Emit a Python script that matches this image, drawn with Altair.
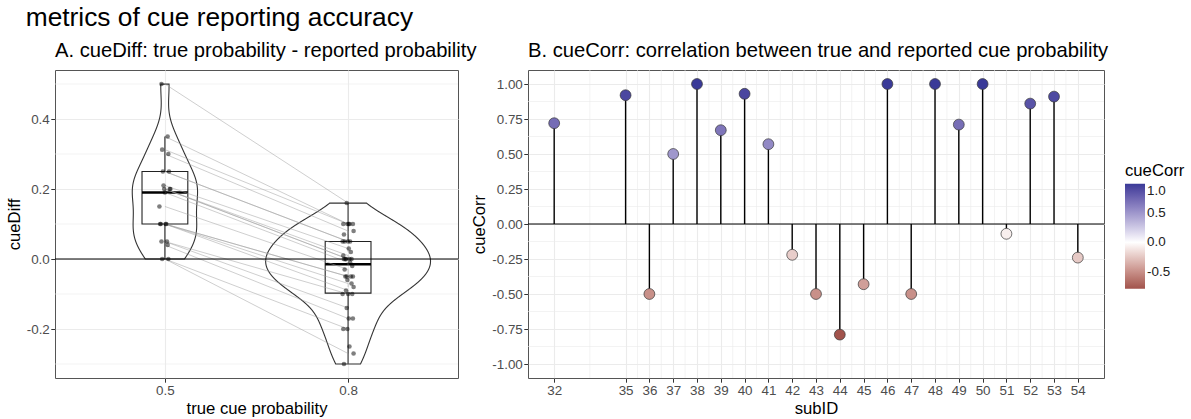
import altair as alt
import pandas as pd

FONT = "Liberation Sans"

# ---------------- data ----------------
sub_ids = [32, 35, 36, 37, 38, 39, 40, 41, 42, 43, 44, 45, 46, 47, 48, 49, 50, 51, 52, 53, 54]
cue_corr = [0.72, 0.92, -0.50, 0.50, 1.00, 0.67, 0.93, 0.57, -0.22, -0.50, -0.79,
            -0.43, 1.00, -0.50, 1.00, 0.71, 1.00, -0.07, 0.86, 0.91, -0.24]

cond_labels = ["0.5", "0.8"]
cue_diff_05 = [0.50, 0.35, 0.3125, 0.30, 0.25, 0.25, 0.21, 0.20, 0.20, 0.20, 0.19,
               0.15, 0.10, 0.10, 0.10, 0.10, 0.05, 0.05, 0.04, 0.00, 0.00]
cue_diff_08_a = [0.16, 0.10, 0.10, 0.08, 0.05, 0.05, 0.03, 0.01, 0.00, 0.00, -0.01,
                 -0.03, -0.05, -0.05, -0.07, -0.09, -0.10, -0.14, -0.17, -0.20, -0.27]
cue_diff_08_b = [0.10, 0.10, 0.10, 0.07, 0.05, 0.05, 0.02, 0.00, 0.00, 0.00, -0.02,
                 -0.05, -0.05, -0.06, -0.08, -0.10, -0.10, -0.17, -0.20, -0.25, -0.30]

yA_ticks = [-0.2, 0.0, 0.2, 0.4]
yA_minor = [-0.3, -0.1, 0.1, 0.3, 0.5]
yB_ticks = [-1.0, -0.75, -0.5, -0.25, 0.0, 0.25, 0.5, 0.75, 1.0]
yB_minor = [-0.875, -0.625, -0.375, -0.125, 0.125, 0.375, 0.625, 0.875]
xB_minor = [(a + b) / 2 for a, b in zip(sub_ids, sub_ids[1:])]
legend_vals = [-0.5, 0.0, 0.5, 1.0]

# ---------------- colours (ggplot gradient2: muted red / white / muted blue, Lab) ----------------
LOW, MID, HIGH = "#832424", "#FFFFFF", "#3A3A98"


def _lin(c):
    return c / 12.92 if c <= 0.04045 else ((c + 0.055) / 1.055) ** 2.4


def _delin(c):
    v = 12.92 * c if c <= 0.0031308 else 1.055 * c ** (1 / 2.4) - 0.055
    return min(1.0, max(0.0, v))


def _f(t):
    d = 6 / 29
    return t ** (1 / 3) if t > d ** 3 else t / (3 * d * d) + 4 / 29


def _finv(t):
    d = 6 / 29
    return t ** 3 if t > d else 3 * d * d * (t - 4 / 29)


WN = (0.95047, 1.0, 1.08883)


def to_lab(h):
    r, g, b = [_lin(int(h[i:i + 2], 16) / 255) for i in (1, 3, 5)]
    X = 0.4124564 * r + 0.3575761 * g + 0.1804375 * b
    Y = 0.2126729 * r + 0.7151522 * g + 0.0721750 * b
    Z = 0.0193339 * r + 0.1191920 * g + 0.9503041 * b
    fx, fy, fz = _f(X / WN[0]), _f(Y / WN[1]), _f(Z / WN[2])
    return (116 * fy - 16, 500 * (fx - fy), 200 * (fy - fz))


def from_lab(lab):
    L, a, b = lab
    fy = (L + 16) / 116
    fx = fy + a / 500
    fz = fy - b / 200
    X, Y, Z = WN[0] * _finv(fx), WN[1] * _finv(fy), WN[2] * _finv(fz)
    r = 3.2404542 * X - 1.5371385 * Y - 0.4985314 * Z
    g = -0.9692660 * X + 1.8760108 * Y + 0.0415560 * Z
    bb = 0.0556434 * X - 0.2040259 * Y + 1.0572252 * Z
    return "#" + "".join("%02x" % round(_delin(c) * 255) for c in (r, g, bb))


def mix(c1, c2, t):
    l1, l2 = to_lab(c1), to_lab(c2)
    return from_lab(tuple(a + (b - a) * t for a, b in zip(l1, l2)))


cmin, cmax = min(cue_corr), max(cue_corr)
span = max(abs(cmin), abs(cmax))
low_col = mix(MID, LOW, abs(cmin) / span)
high_col = mix(MID, HIGH, abs(cmax) / span)

# ---------------- tables ----------------
rows = []
for s, a, b, c in zip(sub_ids, cue_diff_05, cue_diff_08_a, cue_diff_08_b):
    rows.append(dict(subID=s, cond=cond_labels[0], pos=1, k=0, value=a))
    rows.append(dict(subID=s, cond=cond_labels[1], pos=2, k=1, value=b))
    rows.append(dict(subID=s, cond=cond_labels[1], pos=2, k=2, value=c))
dfA = pd.DataFrame(rows)
dfB = pd.DataFrame({"subID": sub_ids, "cueCorr": cue_corr})

MINUS = "\u2212"
GRID = "#EBEBEB"

# ---------------- panel A ----------------
xA_scale = alt.Scale(domain=[0.4, 2.6], nice=False, zero=False)
yA_scale = alt.Scale(domain=[-0.34, 0.54], nice=False, zero=False)
xA_axis = alt.Axis(values=[1, 2], labelExpr="datum.value == 1 ? '0.5' : '0.8'",
                   title="true cue probability", grid=True)
yA_axis = alt.Axis(values=yA_ticks, title="cueDiff", grid=True,
                   labelExpr="replace(format(datum.value, '.1f'), '%s', '-')" % MINUS)


def xa(f):
    return alt.X(f, type="quantitative", scale=xA_scale, axis=xA_axis)


def ya(f):
    return alt.Y(f, type="quantitative", scale=yA_scale, axis=yA_axis)


minorA = alt.Chart(pd.DataFrame({"m": yA_minor})).mark_rule(
    color=GRID, strokeWidth=0.6).encode(y=ya("m"))

baseA = alt.Chart(dfA)

# violin: gaussian KDE per group (bw.nrd0), trimmed to data range, width scaled by count
violin = baseA.transform_joinaggregate(
    sd="stdev(value)", q1="q1(value)", q3="q3(value)", n="count()",
    lo="min(value)", hi="max(value)", groupby=["pos"]
).transform_calculate(
    bw="0.9 * min(datum.sd, (datum.q3 - datum.q1) / 1.34) * pow(datum.n, -0.2)"
).transform_calculate(
    z="datum.value / datum.bw"
).transform_density(
    "z", groupby=["pos", "bw", "lo", "hi", "n"], bandwidth=1, extent=[-15, 15],
    steps=3000, as_=["z", "dz"]
).transform_calculate(
    yv="datum.z * datum.bw", dens="datum.n * datum.dz / datum.bw"
).transform_filter(
    "datum.yv >= datum.lo && datum.yv <= datum.hi"
).transform_joinaggregate(
    maxd="max(dens)"
).transform_calculate(
    xl="datum.pos - 0.45 * datum.dens / datum.maxd",
    xr="datum.pos + 0.45 * datum.dens / datum.maxd",
).transform_fold(
    ["xl", "xr"], as_=["side", "xv"]
).transform_calculate(
    ord="datum.side == 'xl' ? datum.yv : 5 - datum.yv"
).mark_line(interpolate="linear-closed", color="#333333", strokeWidth=1.1).encode(
    y=ya("yv"), x=xa("xv"), detail="pos:N", order=alt.Order("ord:Q")
)

boxbase = baseA.transform_joinaggregate(
    q1="q1(value)", q3="q3(value)", med="median(value)", groupby=["pos"]
).transform_calculate(
    lof="datum.q1 - 1.5 * (datum.q3 - datum.q1)",
    hif="datum.q3 + 1.5 * (datum.q3 - datum.q1)",
).transform_filter(
    "datum.value >= datum.lof && datum.value <= datum.hif"
).transform_aggregate(
    wlo="min(value)", whi="max(value)", groupby=["pos", "q1", "q3", "med"]
).transform_calculate(
    bl="datum.pos - 0.125", br="datum.pos + 0.125"
)

box_rect = boxbase.mark_rect(fill="white", fillOpacity=0, stroke="#222222",
                             strokeWidth=1.1).encode(
    x=xa("bl"), x2=alt.X2("br"), y=ya("q1"), y2=alt.Y2("q3"))
whisk_lo = boxbase.mark_rule(color="#222222", strokeWidth=1.1).encode(
    x=xa("pos"), y=ya("wlo"), y2=alt.Y2("q1"))
whisk_hi = boxbase.mark_rule(color="#222222", strokeWidth=1.1).encode(
    x=xa("pos"), y=ya("q3"), y2=alt.Y2("whi"))
median = boxbase.mark_rule(color="black", strokeWidth=2.6).encode(
    x=xa("bl"), x2=alt.X2("br"), y=ya("med"))

lines = baseA.mark_line(color="#a0a0a0", opacity=0.5, strokeWidth=1).encode(
    x=xa("pos"), y=ya("value"), detail="subID:N", order=alt.Order("k:Q"))

points = baseA.transform_window(
    idx="row_number()"
).transform_calculate(
    jx="datum.pos + (((datum.idx * 37) % 17) / 16 - 0.5) * 0.06"
).mark_circle(color="black", opacity=0.5, size=21).encode(
    x=xa("jx"), y=ya("value"))

hlineA = alt.Chart(pd.DataFrame({"z": [0.0]})).mark_rule(
    color="black", strokeWidth=1.2).encode(y=ya("z"))

panelA = alt.layer(minorA, violin, box_rect, whisk_lo, whisk_hi, median, lines,
                   hlineA, points).properties(
    width=403, height=308,
    title=alt.TitleParams("A. cueDiff: true probability - reported probability",
                          anchor="start", frame="group", fontSize=20.2, font=FONT,
                          fontWeight="normal", color="black", offset=9))

# ---------------- panel B ----------------
xB_scale = alt.Scale(domain=[30.9, 55.1], nice=False, zero=False)
yB_scale = alt.Scale(domain=[-1.1, 1.1], nice=False, zero=False)
xB_axis = alt.Axis(values=sub_ids, format="d", title="subID", grid=True)
yB_axis = alt.Axis(values=yB_ticks, title="cueCorr", grid=True,
                   labelExpr="replace(format(datum.value, '.2f'), '%s', '-')" % MINUS)


def xb(f):
    return alt.X(f, type="quantitative", scale=xB_scale, axis=xB_axis)


def yb(f):
    return alt.Y(f, type="quantitative", scale=yB_scale, axis=yB_axis)


minorBy = alt.Chart(pd.DataFrame({"m": yB_minor})).mark_rule(
    color=GRID, strokeWidth=0.6).encode(y=yb("m"))
minorBx = alt.Chart(pd.DataFrame({"m": xB_minor})).mark_rule(
    color=GRID, strokeWidth=0.6).encode(x=xb("m"))

baseB = alt.Chart(dfB).transform_calculate(zero="0")
hlineB = alt.Chart(pd.DataFrame({"z": [0.0]})).mark_rule(
    color="black", strokeWidth=1.2).encode(y=yb("z"))
sticks = baseB.mark_rule(color="black", strokeWidth=1.4).encode(
    x=xb("subID"), y=yb("cueCorr"), y2=alt.Y2("zero:Q"))
dots = alt.Chart(dfB).mark_circle(size=118, opacity=1, stroke="#3a3a3a",
                                  strokeWidth=0.7).encode(
    x=xb("subID"), y=yb("cueCorr"),
    fill=alt.Fill("cueCorr:Q",
                  scale=alt.Scale(domain=[cmin, 0, cmax], range=[low_col, MID, high_col],
                                  interpolate="lab"),
                  legend=alt.Legend(title="cueCorr", values=legend_vals,
                                    labelExpr="replace(format(datum.value, '.1f'), '%s', '-')" % MINUS,
                                    gradientLength=105, gradientThickness=20,
                                    orient="none", legendX=1070, legendY=93)))

panelB = alt.layer(minorBy, minorBx, hlineB, sticks, dots).properties(
    width=576, height=308,
    title=alt.TitleParams("B. cueCorr: correlation between true and reported cue probability",
                          anchor="start", frame="group", fontSize=20.2, font=FONT,
                          fontWeight="normal", color="black", offset=9))

chart = alt.hconcat(panelA, panelB, spacing=70, bounds="flush").properties(
    title=alt.TitleParams("metrics of cue reporting accuracy", anchor="start",
                          fontSize=26.3, font=FONT, fontWeight="normal", color="black",
                          dx=20, offset=9)
).configure(
    padding={"left": 5, "top": 4, "right": 0, "bottom": 0}, background="white"
).configure_view(
    stroke="#555555", strokeWidth=1
).configure_axis(
    labelFont=FONT, labelFontSize=13.4, labelColor="#4D4D4D", titleFont=FONT,
    titleFontSize=16.7, titleColor="black", titleFontWeight="normal",
    tickColor="#333333", tickSize=4.2, tickWidth=1, labelPadding=1.5, titlePadding=3,
    domain=False, gridColor=GRID, gridWidth=1.1
).configure_legend(
    titleFont=FONT, titleFontSize=16.7, titleFontWeight="normal", titleColor="black",
    labelFont=FONT, labelFontSize=13.4, labelColor="#222222", gradientStrokeWidth=0,
    titlePadding=4
)

chart.save("out.html", embed_options={"renderer": "svg", "actions": False})
